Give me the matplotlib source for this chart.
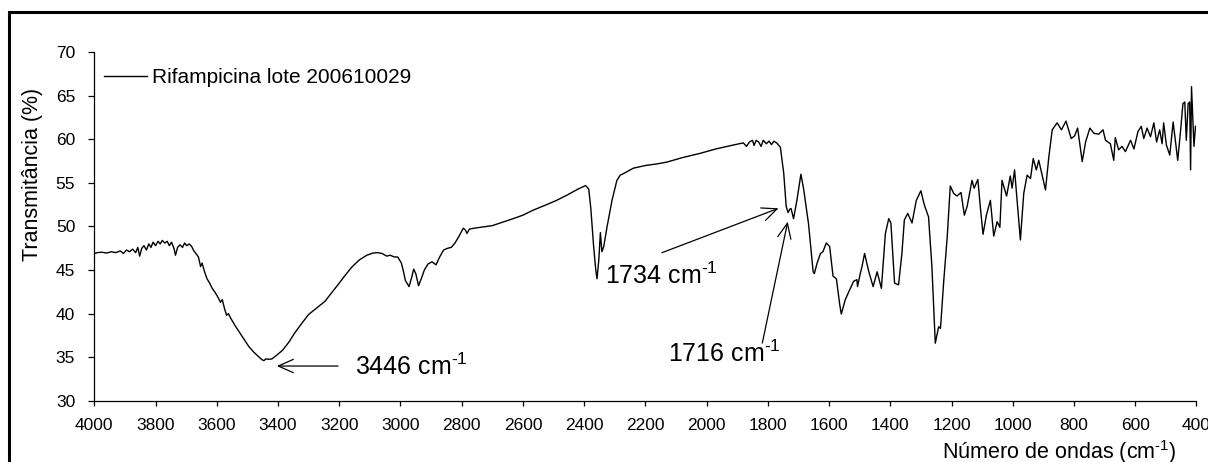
import matplotlib
matplotlib.use('Agg')
import matplotlib.pyplot as plt
from matplotlib.patches import Rectangle

plt.rcParams['font.family'] = ['Liberation Sans', 'DejaVu Sans']
plt.rcParams['mathtext.fontset'] = 'custom'
plt.rcParams['mathtext.rm'] = 'Liberation Sans'
plt.rcParams['mathtext.it'] = 'Liberation Sans:italic'
plt.rcParams['mathtext.default'] = 'regular'

# ---- data ----
wavenumber = [
    4000, 3990, 3975, 3960, 3945, 3930, 3915, 3905, 3895, 3885, 3875, 3865, 3858, 3852,
    3845, 3838, 3830, 3822, 3815, 3808, 3800, 3792, 3785, 3778, 3770, 3762, 3755, 3748,
    3740, 3735, 3728, 3720, 3712, 3705, 3698, 3690, 3682, 3675, 3668, 3660, 3653, 3648,
    3640, 3632, 3625, 3615, 3605, 3595, 3588, 3582, 3575, 3568, 3562, 3555, 3540, 3525,
    3510, 3495, 3480, 3465, 3452, 3446, 3440, 3430, 3420, 3405, 3385, 3365, 3345, 3322,
    3300, 3275, 3247, 3220, 3200, 3185, 3160, 3135, 3110, 3090, 3075, 3060, 3045, 3034,
    3020, 3009, 2997, 2990, 2984, 2972, 2963, 2957, 2950, 2941, 2930, 2922, 2910, 2897,
    2884, 2872, 2859, 2846, 2834, 2822, 2810, 2795, 2788, 2783, 2775, 2760, 2740, 2720,
    2700, 2674, 2640, 2600, 2565, 2530, 2490, 2456, 2420, 2395, 2385, 2378, 2369, 2362,
    2358, 2352, 2347, 2342, 2336, 2325, 2309, 2293, 2282, 2270, 2239, 2200, 2160, 2129,
    2080, 2021, 1970, 1912, 1880, 1870, 1860, 1850, 1845, 1838, 1830, 1822, 1815, 1805,
    1796, 1788, 1780, 1770, 1759, 1748, 1740, 1734, 1728, 1724, 1716, 1705, 1692, 1683,
    1667, 1652, 1648, 1639, 1628, 1620, 1609, 1598, 1587, 1576, 1565, 1560, 1547, 1533,
    1520, 1509, 1507, 1498, 1492, 1484, 1470, 1456, 1443, 1429, 1416, 1405, 1398, 1386,
    1373, 1362, 1354, 1343, 1329, 1315, 1300, 1289, 1275, 1264, 1253, 1242, 1236, 1225,
    1214, 1204, 1193, 1182, 1169, 1158, 1149, 1133, 1126, 1114, 1106, 1097, 1086, 1073,
    1062, 1051, 1042, 1035, 1020, 1008, 1002, 994, 975, 964, 953, 942, 933, 923,
    915, 893, 882, 871, 855, 841, 826, 809, 798, 788, 773, 762, 748, 735,
    719, 705, 697, 681, 670, 665, 654, 643, 632, 615, 604, 591, 580, 572,
    561, 550, 539, 530, 520, 512, 507, 498, 487, 476, 469, 461, 452, 444,
    438, 433, 427, 422, 419, 416, 408, 403, 400,
]
transmittance = [
    46.9, 47.0, 47.05, 46.95, 47.1, 47.0, 47.2, 46.9, 47.3, 47.1, 47.4, 47.0, 47.6, 46.6,
    47.5, 47.8, 47.3, 48.0, 47.6, 48.2, 47.8, 48.3, 48.0, 48.4, 48.1, 48.3, 47.8, 48.2,
    47.5, 46.7, 47.6, 47.9, 47.6, 48.1, 47.8, 48.0, 47.7, 47.2, 46.9, 46.5, 45.4, 45.8,
    44.8, 44.0, 43.6, 42.9, 42.4, 41.8, 41.3, 41.6, 40.6, 39.8, 40.0, 39.5, 38.6, 37.8,
    37.0, 36.2, 35.6, 35.1, 34.7, 34.6, 34.8, 34.75, 34.8, 35.2, 35.8, 36.7, 37.8, 38.9,
    39.9, 40.6, 41.4, 42.6, 43.5, 44.2, 45.3, 46.15, 46.7, 46.95, 47.0, 46.9, 46.6, 46.7,
    46.5, 46.5, 45.8, 44.8, 43.8, 43.1, 44.2, 45.1, 44.6, 43.2, 44.2, 45.0, 45.7, 45.95,
    45.6, 46.5, 47.3, 47.5, 47.6, 48.1, 48.8, 49.8, 49.6, 49.2, 49.7, 49.8, 49.9, 50.0,
    50.1, 50.4, 50.8, 51.3, 51.9, 52.4, 53.0, 53.6, 54.3, 54.7, 54.3, 52.0, 47.7, 45.0,
    44.0, 46.2, 49.3, 47.1, 47.7, 50.0, 53.0, 55.3, 55.9, 56.1, 56.7, 57.0, 57.2, 57.4,
    57.9, 58.4, 58.9, 59.36, 59.6, 59.2, 59.7, 59.9, 59.3, 59.9, 59.7, 59.2, 59.9, 59.5,
    59.8, 59.4, 59.8, 59.55, 59.1, 56.1, 52.3, 51.6, 52.0, 52.05, 50.9, 53.0, 56.0, 54.3,
    50.3, 44.8, 44.6, 45.8, 46.9, 47.1, 48.1, 47.7, 44.3, 44.0, 41.0, 39.95, 41.6, 42.7,
    43.7, 43.9, 43.1, 44.6, 45.45, 46.9, 44.8, 43.1, 44.8, 42.9, 49.2, 50.9, 50.4, 43.5,
    43.3, 46.9, 50.75, 51.5, 50.4, 53.0, 54.1, 52.5, 51.1, 45.4, 36.6, 38.5, 38.3, 43.9,
    48.8, 54.65, 53.8, 53.5, 53.9, 51.3, 52.3, 55.3, 54.4, 55.4, 52.3, 49.1, 51.3, 53.0,
    48.9, 50.55, 49.9, 55.3, 53.5, 55.8, 54.4, 56.5, 48.45, 53.8, 55.9, 55.5, 57.8, 56.5,
    57.6, 54.2, 58.0, 61.1, 61.9, 61.1, 62.1, 60.1, 60.4, 61.3, 57.45, 59.7, 61.3, 60.7,
    60.6, 61.1, 59.9, 59.5, 57.6, 60.2, 58.8, 59.2, 58.6, 59.9, 58.9, 60.9, 61.5, 60.1,
    61.3, 60.3, 61.9, 59.7, 61.1, 59.5, 61.9, 59.35, 58.2, 62.0, 59.9, 57.6, 60.9, 64.1,
    64.3, 59.9, 64.1, 64.3, 56.5, 66.05, 59.2, 61.5, 61.5,
]
series_label = 'Rifampicina lote 200610029'
x_ticks = list(range(4000, 399, -200))
y_ticks = list(range(30, 71, 5))
x_label = r'Número de ondas (cm$^{\text{-1}}$)'
y_label = 'Transmitância (%)'

# annotations: text, text position, arrow head, arrow tail
ann_texts = [r'3446 cm$^{\text{-1}}$', r'1734 cm$^{\text{-1}}$', r'1716 cm$^{\text{-1}}$']
ann_text_pos = [(3148, 33.87), (2331, 44.37), (2125, 35.36)]
ann_heads = [(3404, 33.98), (1765, 52.09), (1735, 50.55)]
ann_tails = [(3204, 33.98), (2146, 46.99), (1818, 36.62)]

# ---- figure ----
fig = plt.figure(figsize=(12.08, 4.62), dpi=100)
fig.patch.set_facecolor('white')
ax = fig.add_axes([0.0781, 0.1327, 0.9123, 0.7541])

ax.plot(wavenumber, transmittance, color='black', lw=1.0, label=series_label)
ax.set_xlim(4000, 400)
ax.set_ylim(30, 70)
ax.set_xticks(x_ticks)
ax.set_yticks(y_ticks)
for s in ('top', 'right'):
    ax.spines[s].set_visible(False)
for s in ('left', 'bottom'):
    ax.spines[s].set_linewidth(0.9)
ax.tick_params(axis='x', direction='out', length=3.6, width=0.9, labelsize=12.5, pad=9)
ax.tick_params(axis='y', direction='out', length=4.3, width=0.9, labelsize=12.5, pad=9.5)

ax.set_ylabel(y_label, fontsize=15.5, va='center', ha='center')
ax.yaxis.set_label_coords(-0.0565, 0.648)
ax.set_xlabel(x_label, fontsize=15.5, va='center', ha='center')
ax.xaxis.set_label_coords(0.8754, -0.147)

ax.legend(loc='center left', bbox_to_anchor=(0.0088, 0.928), frameon=False,
          borderaxespad=0, borderpad=0, handlelength=2.06, handletextpad=0.24,
          fontsize=15)

for txt, tpos, head, tail in zip(ann_texts, ann_text_pos, ann_heads, ann_tails):
    ax.annotate('', xy=head, xytext=tail,
                arrowprops=dict(arrowstyle='->,head_length=10.8,head_width=4.8',
                                mutation_scale=1, lw=0.9, color='black',
                                shrinkA=0, shrinkB=0))
    ax.text(tpos[0], tpos[1], txt, fontsize=18, ha='left', va='center')

# outer frame of the chart area
fig.add_artist(Rectangle((0.00745, -0.2), 1.2, 0.9747 + 0.2, transform=fig.transFigure,
                         fill=False, lw=2.2, edgecolor='black', clip_on=False))

fig.savefig('out.png', dpi=100, facecolor='white')
